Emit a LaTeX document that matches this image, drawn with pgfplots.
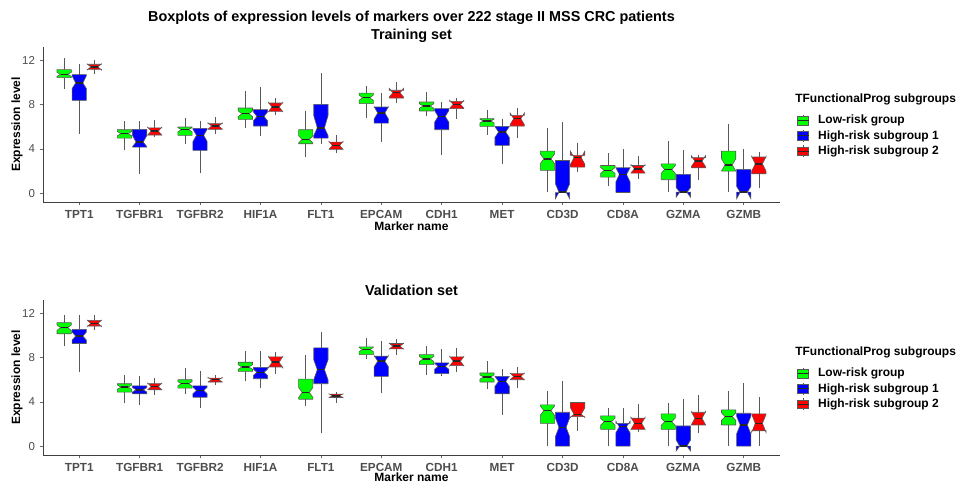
\documentclass[border=0pt]{standalone}
\usepackage{pgfplots}
\pgfplotsset{compat=1.18}
\usepackage{fontspec}
\setmainfont{Liberation Sans}
\definecolor{lowg}{HTML}{00FF00}
\definecolor{hr1}{HTML}{0000FF}
\definecolor{hr2}{HTML}{FF0000}
\definecolor{txtg}{HTML}{4D4D4D}
\definecolor{edge}{HTML}{595959}

\pgfplotsset{
  whisk/.style={draw=edge, line width=0.5pt, forget plot},
  boxst/.style={draw=edge, line width=0.45pt, forget plot, line join=miter},
  medst/.style={draw=black!85, line width=1.1pt, forget plot},
  legimg/.style={legend image code/.code={
      \draw[draw=edge, line width=0.45pt] (4.1pt,-4.4pt)--(4.1pt,4.4pt);
      \draw[##1, draw=edge, line width=0.45pt] (0pt,-3.2pt) rectangle (8.25pt,3.2pt);
      \draw[black!85, line width=0.8pt] (0pt,0pt)--(8.25pt,0pt);}},
  panel/.style={
    scale only axis, width=552.75pt, height=116.25pt,
    xmin=0.4, xmax=12.6, ymin=-0.8, ymax=13.2,
    clip=false,
    axis lines=left, axis line style={-, black!75, line width=0.5pt},
    xtick={1,...,12},
    xticklabels={TPT1,TGFBR1,TGFBR2,HIF1A,FLT1,EPCAM,CDH1,MET,CD3D,CD8A,GZMA,GZMB},
    ytick={0,4,8,12},
    /pgf/number format/assume math mode=true,
    tick align=outside, major tick length=2.5pt,
    tick style={black!60, line width=0.5pt},
    xticklabel style={font=\fontsize{8.8}{10}\selectfont\bfseries, text=txtg},
    yticklabel style={font=\fontsize{8.6}{10}\selectfont, text=txtg},
    xlabel={Marker name}, ylabel={Expression level},
    label style={font=\fontsize{9}{10}\selectfont\bfseries},
    xlabel style={at={(axis description cs:0.5,-0.155)}, anchor=center},
    ylabel style={at={(axis description cs:-0.0353,0.5)}, anchor=center},
    legend style={at={(axis description cs:1.0231,0.565)}, anchor=north west,
      draw=none, fill=none, inner sep=0pt, outer sep=0pt,
      font=\fontsize{9}{10}\selectfont\bfseries, row sep=2.25pt,
      nodes={inner sep=0pt, text height=6.8pt, text depth=1.9pt},
      /tikz/every odd column/.append style={column sep=6.75pt}},
    legend cell align=left,
  }
}

% \nbox{pos}{lower whisker}{q1}{notch low}{median}{notch high}{q3}{upper whisker}{colour}
\newcommand{\nbox}[9]{%
  \pgfmathsetmacro\xl{#1-0.118}\pgfmathsetmacro\xr{#1+0.118}%
  \pgfmathsetmacro\xil{#1-0.059}\pgfmathsetmacro\xir{#1+0.059}%
  \edef\doplot{%
    \noexpand\addplot[whisk] coordinates {(#1,#2) (#1,#3)};
    \noexpand\addplot[whisk] coordinates {(#1,#7) (#1,#8)};
    \noexpand\addplot[boxst, fill=#9] coordinates {(\xl,#3) (\xl,#4) (\xil,#5) (\xl,#6) (\xl,#7) (\xr,#7) (\xr,#6) (\xir,#5) (\xr,#4) (\xr,#3) (\xl,#3)};
    \noexpand\addplot[medst] coordinates {(\xil,#5) (\xir,#5)};
  }\doplot}

\begin{document}
\begin{tikzpicture}[x=0.75pt,y=0.75pt]
\useasboundingbox (0,0) rectangle (963,486);

\node[font=\fontsize{10.8}{12}\selectfont\bfseries] at (411.5,468) {Boxplots of expression levels of markers over 222 stage II MSS CRC patients};
\node[font=\fontsize{10.8}{12}\selectfont\bfseries] at (411.5,450) {Training set};
\node[font=\fontsize{10.8}{12}\selectfont\bfseries] at (411.5,196) {Validation set};

% ---------------- Training set ----------------
\begin{axis}[panel, at={(32.25pt,213pt)}, anchor=south west]
\nbox{0.75}{9.44}{10.43}{10.55}{10.73}{10.91}{11.15}{12.24}{lowg}
\nbox{1}{5.37}{8.38}{9.45}{9.95}{10.6}{10.7}{11.7}{hr1}
\nbox{1.25}{10.8}{11.18}{11.13}{11.4}{11.67}{11.64}{12.0}{hr2}
\nbox{1.75}{3.86}{4.97}{5.18}{5.37}{5.56}{5.73}{6.48}{lowg}
\nbox{2}{1.75}{4.16}{4.2}{4.61}{5.2}{5.76}{6.48}{hr1}
\nbox{2.25}{5.06}{5.25}{5.24}{5.6}{5.96}{5.9}{6.63}{hr2}
\nbox{2.75}{4.46}{5.22}{5.54}{5.73}{5.92}{5.97}{6.78}{lowg}
\nbox{3}{1.81}{3.86}{4.66}{5.22}{5.78}{5.85}{6.48}{hr1}
\nbox{3.25}{5.3}{5.76}{5.78}{6.06}{6.34}{6.27}{6.87}{hr2}
\nbox{3.75}{5.9}{6.66}{6.91}{7.17}{7.43}{7.69}{9.2}{lowg}
\nbox{4}{5.16}{6.06}{6.52}{6.93}{7.34}{7.54}{9.59}{hr1}
\nbox{4.25}{7.02}{7.39}{7.37}{7.78}{8.19}{8.14}{8.62}{hr2}
\nbox{4.75}{3.26}{4.46}{4.53}{4.85}{5.17}{5.73}{7.42}{lowg}
\nbox{5}{4.4}{4.97}{5.2}{5.9}{7.0}{8.02}{10.85}{hr1}
\nbox{5.25}{3.62}{3.95}{3.95}{4.31}{4.67}{4.61}{5.27}{hr2}
\nbox{5.75}{6.78}{8.08}{8.38}{8.62}{8.86}{9.04}{9.68}{lowg}
\nbox{6}{4.61}{6.33}{6.7}{7.24}{7.8}{7.78}{9.07}{hr1}
\nbox{6.25}{8.14}{8.59}{8.68}{9.07}{9.46}{9.29}{10.04}{hr2}
\nbox{6.75}{6.93}{7.42}{7.67}{7.87}{8.07}{8.23}{9.13}{lowg}
\nbox{7}{3.41}{5.73}{6.4}{6.93}{7.46}{7.63}{8.23}{hr1}
\nbox{7.25}{6.72}{7.63}{7.66}{8.02}{8.38}{8.29}{8.62}{hr2}
\nbox{7.75}{5.28}{6.03}{6.34}{6.51}{6.68}{6.72}{7.54}{lowg}
\nbox{8}{2.59}{4.31}{5.04}{5.52}{6.0}{6.03}{6.72}{hr1}
\nbox{8.25}{4.97}{6.06}{6.19}{6.72}{7.25}{7.02}{7.72}{hr2}
\nbox{8.75}{0.09}{2.05}{2.66}{3.1}{3.54}{3.8}{5.9}{lowg}
\nbox{9}{0.05}{0.05}{-0.5}{0.09}{0.85}{2.95}{6.42}{hr1}
\nbox{9.25}{1.9}{2.35}{2.62}{3.2}{3.78}{3.41}{4.55}{hr2}
\nbox{9.75}{0.63}{1.45}{1.79}{2.05}{2.31}{2.5}{3.65}{lowg}
\nbox{10}{0.06}{0.06}{1.0}{1.69}{2.3}{2.29}{3.95}{hr1}
\nbox{10.25}{1.3}{1.81}{1.82}{2.2}{2.58}{2.5}{3.32}{hr2}
\nbox{10.75}{0.09}{1.21}{1.78}{2.14}{2.5}{2.65}{4.7}{lowg}
\nbox{11}{0.09}{0.09}{-0.36}{0.09}{0.5}{1.69}{3.92}{hr1}
\nbox{11.25}{1.21}{2.29}{2.39}{2.89}{3.39}{3.2}{3.41}{hr2}
\nbox{11.75}{0.09}{1.99}{2.0}{2.56}{3.1}{3.8}{6.21}{lowg}
\nbox{12}{0.09}{0.09}{-0.5}{0.09}{0.6}{2.14}{4.0}{hr1}
\nbox{12.25}{0.45}{1.75}{2.0}{2.65}{3.3}{3.26}{3.71}{hr2}
\addlegendimage{legimg, fill=lowg}\addlegendentry{Low-risk group}
\addlegendimage{legimg, fill=hr1}\addlegendentry{High-risk subgroup 1}
\addlegendimage{legimg, fill=hr2}\addlegendentry{High-risk subgroup 2}
\node[anchor=west, inner sep=0pt, font=\fontsize{9}{10}\selectfont\bfseries] at (axis description cs:1.0204,0.66) {TFunctionalProg subgroups};
\end{axis}

% ---------------- Validation set ----------------
\begin{axis}[panel, at={(32.25pt,23.25pt)}, anchor=south west,
  xlabel style={at={(axis description cs:0.5,-0.142)}, anchor=center}]
\nbox{0.75}{9.09}{10.15}{10.45}{10.7}{10.95}{11.15}{11.82}{lowg}
\nbox{1}{6.67}{9.27}{9.58}{9.94}{10.3}{10.55}{11.82}{hr1}
\nbox{1.25}{10.48}{10.85}{10.81}{11.09}{11.37}{11.36}{11.82}{hr2}
\nbox{1.75}{3.88}{4.88}{5.14}{5.33}{5.52}{5.64}{6.45}{lowg}
\nbox{2}{3.73}{4.73}{4.89}{5.09}{5.29}{5.45}{6.36}{hr1}
\nbox{2.25}{4.64}{5.09}{5.09}{5.39}{5.69}{5.64}{6.15}{hr2}
\nbox{2.75}{4.73}{5.24}{5.45}{5.64}{5.83}{6.0}{7.06}{lowg}
\nbox{3}{3.42}{4.42}{4.74}{5.03}{5.32}{5.45}{6.76}{hr1}
\nbox{3.25}{5.55}{5.79}{5.8}{6.0}{6.2}{6.15}{6.45}{hr2}
\nbox{3.75}{5.85}{6.76}{6.94}{7.15}{7.36}{7.58}{8.58}{lowg}
\nbox{4}{5.24}{6.09}{6.38}{6.67}{6.96}{7.12}{8.58}{hr1}
\nbox{4.25}{6.55}{7.15}{7.08}{7.58}{8.08}{8.06}{8.48}{hr2}
\nbox{4.75}{3.64}{4.24}{4.4}{4.85}{5.3}{6.06}{8.27}{lowg}
\nbox{5}{1.21}{5.64}{6.0}{6.91}{7.8}{8.88}{10.3}{hr1}
\nbox{5.25}{3.94}{4.39}{4.38}{4.55}{4.72}{4.7}{4.85}{hr2}
\nbox{5.75}{7.88}{8.27}{8.55}{8.73}{8.91}{8.97}{9.79}{lowg}
\nbox{6}{4.79}{6.3}{7.17}{7.67}{8.17}{8.12}{9.48}{hr1}
\nbox{6.25}{8.27}{8.79}{8.77}{9.03}{9.29}{9.27}{9.64}{hr2}
\nbox{6.75}{6.45}{7.36}{7.65}{7.88}{8.11}{8.27}{9.03}{lowg}
\nbox{7}{6.36}{6.55}{6.94}{7.21}{7.48}{7.52}{8.79}{hr1}
\nbox{7.25}{6.67}{7.27}{7.24}{7.67}{8.1}{8.06}{8.82}{hr2}
\nbox{7.75}{5.15}{5.79}{6.04}{6.24}{6.44}{6.61}{7.67}{lowg}
\nbox{8}{2.82}{4.73}{5.41}{5.85}{6.29}{6.3}{7.0}{hr1}
\nbox{8.25}{5.24}{6.0}{6.0}{6.3}{6.6}{6.55}{7.12}{hr2}
\nbox{8.75}{0.0}{2.06}{2.79}{3.21}{3.63}{3.73}{4.94}{lowg}
\nbox{9}{0.0}{0.0}{0.85}{1.7}{2.55}{3.06}{5.85}{hr1}
\nbox{9.25}{1.39}{2.67}{2.6}{2.88}{3.45}{3.94}{3.94}{hr2}
\nbox{9.75}{0.0}{1.52}{1.91}{2.21}{2.51}{2.73}{3.42}{lowg}
\nbox{10}{0.0}{0.0}{1.2}{1.76}{2.25}{2.06}{3.42}{hr1}
\nbox{10.25}{1.3}{1.52}{1.51}{2.06}{2.61}{2.52}{3.82}{hr2}
\nbox{10.75}{0.0}{1.52}{1.86}{2.21}{2.56}{2.91}{3.94}{lowg}
\nbox{11}{0.0}{0.0}{-0.42}{0.0}{0.55}{1.82}{4.24}{hr1}
\nbox{11.25}{1.15}{1.91}{1.92}{2.52}{3.12}{3.06}{4.64}{hr2}
\nbox{11.75}{0.0}{1.91}{2.33}{2.67}{3.01}{3.27}{4.94}{lowg}
\nbox{12}{0.0}{0.0}{1.1}{1.91}{2.7}{2.97}{5.7}{hr1}
\nbox{12.25}{0.0}{1.39}{1.26}{2.06}{2.86}{2.91}{4.42}{hr2}
\addlegendimage{legimg, fill=lowg}\addlegendentry{Low-risk group}
\addlegendimage{legimg, fill=hr1}\addlegendentry{High-risk subgroup 1}
\addlegendimage{legimg, fill=hr2}\addlegendentry{High-risk subgroup 2}
\node[anchor=west, inner sep=0pt, font=\fontsize{9}{10}\selectfont\bfseries] at (axis description cs:1.0204,0.66) {TFunctionalProg subgroups};
\end{axis}
\end{tikzpicture}
\end{document}
